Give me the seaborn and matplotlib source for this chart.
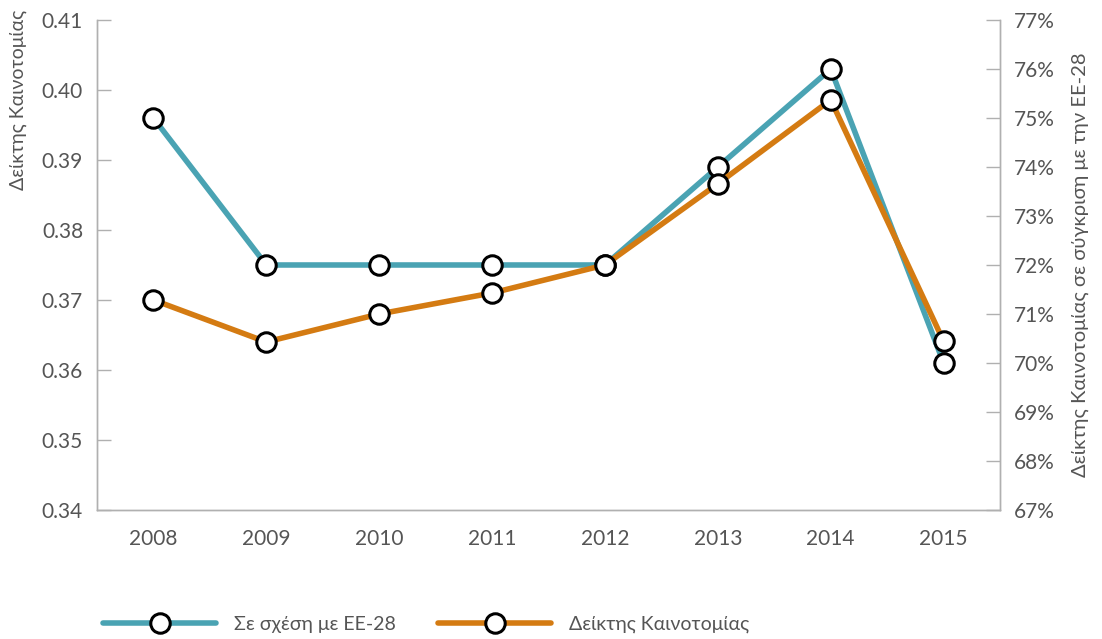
import numpy as np
import pandas as pd
import matplotlib
matplotlib.use("Agg")
import matplotlib.pyplot as plt
import seaborn as sns
from matplotlib.ticker import PercentFormatter, MultipleLocator

years = [2008, 2009, 2010, 2011, 2012, 2013, 2014, 2015]
vs_eu28 = [75.0, 72.0, 72.0, 72.0, 72.0, 74.0, 76.0, 70.0]
innov_index = [0.370, 0.364, 0.368, 0.371, 0.375, 0.3866, 0.3986, 0.3641]

teal = "#4aa3b3"
orange = "#d47b12"
grey_txt = "#555555"
grey_ax = "#b0b0b0"

sns.set_style("white")
plt.rcParams['font.family'] = ['Lato', 'Noto Sans', 'DejaVu Sans']

fig = plt.figure(figsize=(11.02, 6.39), dpi=100)
ax = fig.add_axes([0.088, 0.202, 0.8195, 0.7666])
ax2 = ax.twinx()

df = pd.DataFrame({"year": years, "eu": vs_eu28, "idx": innov_index})

mk = dict(marker="o", markersize=14, markerfacecolor="white",
          markeredgecolor="black", markeredgewidth=2.2)

sns.lineplot(data=df, x="year", y="eu", ax=ax2, color=teal, linewidth=4,
             label="Σε σχέση με ΕΕ-28", legend=False, **mk)
sns.lineplot(data=df, x="year", y="idx", ax=ax, color=orange, linewidth=4,
             label="Δείκτης Καινοτομίας", legend=False, **mk)

# orange series drawn above teal
ax.set_zorder(ax2.get_zorder() + 1)
ax.patch.set_visible(False)

ax.set_xlim(2007.5, 2015.5)
ax.set_xticks(years)
ax.set_ylim(0.34, 0.41)
ax.yaxis.set_major_locator(MultipleLocator(0.01))
ax.yaxis.set_major_formatter(plt.FormatStrFormatter("%.2f"))
ax2.set_ylim(67, 77)
ax2.yaxis.set_major_locator(MultipleLocator(1))
ax2.yaxis.set_major_formatter(PercentFormatter(decimals=0))

for a in (ax, ax2):
    for s in a.spines.values():
        s.set_color(grey_ax)
        s.set_linewidth(1)
    a.spines["top"].set_visible(False)
    a.tick_params(direction="in", length=10, width=1, color=grey_ax,
                  labelsize=15, labelcolor=grey_txt, pad=10)
    a.set_xlabel("")
ax.tick_params(axis="x", pad=14)

ax.set_ylabel("Δείκτης Καινοτομίας", fontsize=14, color=grey_txt, loc="top")
ax.yaxis.set_label_coords(-0.077, 1.02)
ax2.set_ylabel("Δείκτης Καινοτομίας σε σύγκριση με την ΕΕ-28", fontsize=14.5,
               color=grey_txt, rotation=90, labelpad=12)

handles = [ax2.get_lines()[0], ax.get_lines()[0]]
labels = ["Σε σχέση με ΕΕ-28", "Δείκτης Καινοτομίας"]
fig.legend(handles, labels, loc="lower left", bbox_to_anchor=(0.078, -0.018),
           ncol=2, frameon=False, fontsize=14, handlelength=5.8,
           handletextpad=0.9, columnspacing=2.2, labelcolor=grey_txt)

fig.savefig("out.png", dpi=100)
